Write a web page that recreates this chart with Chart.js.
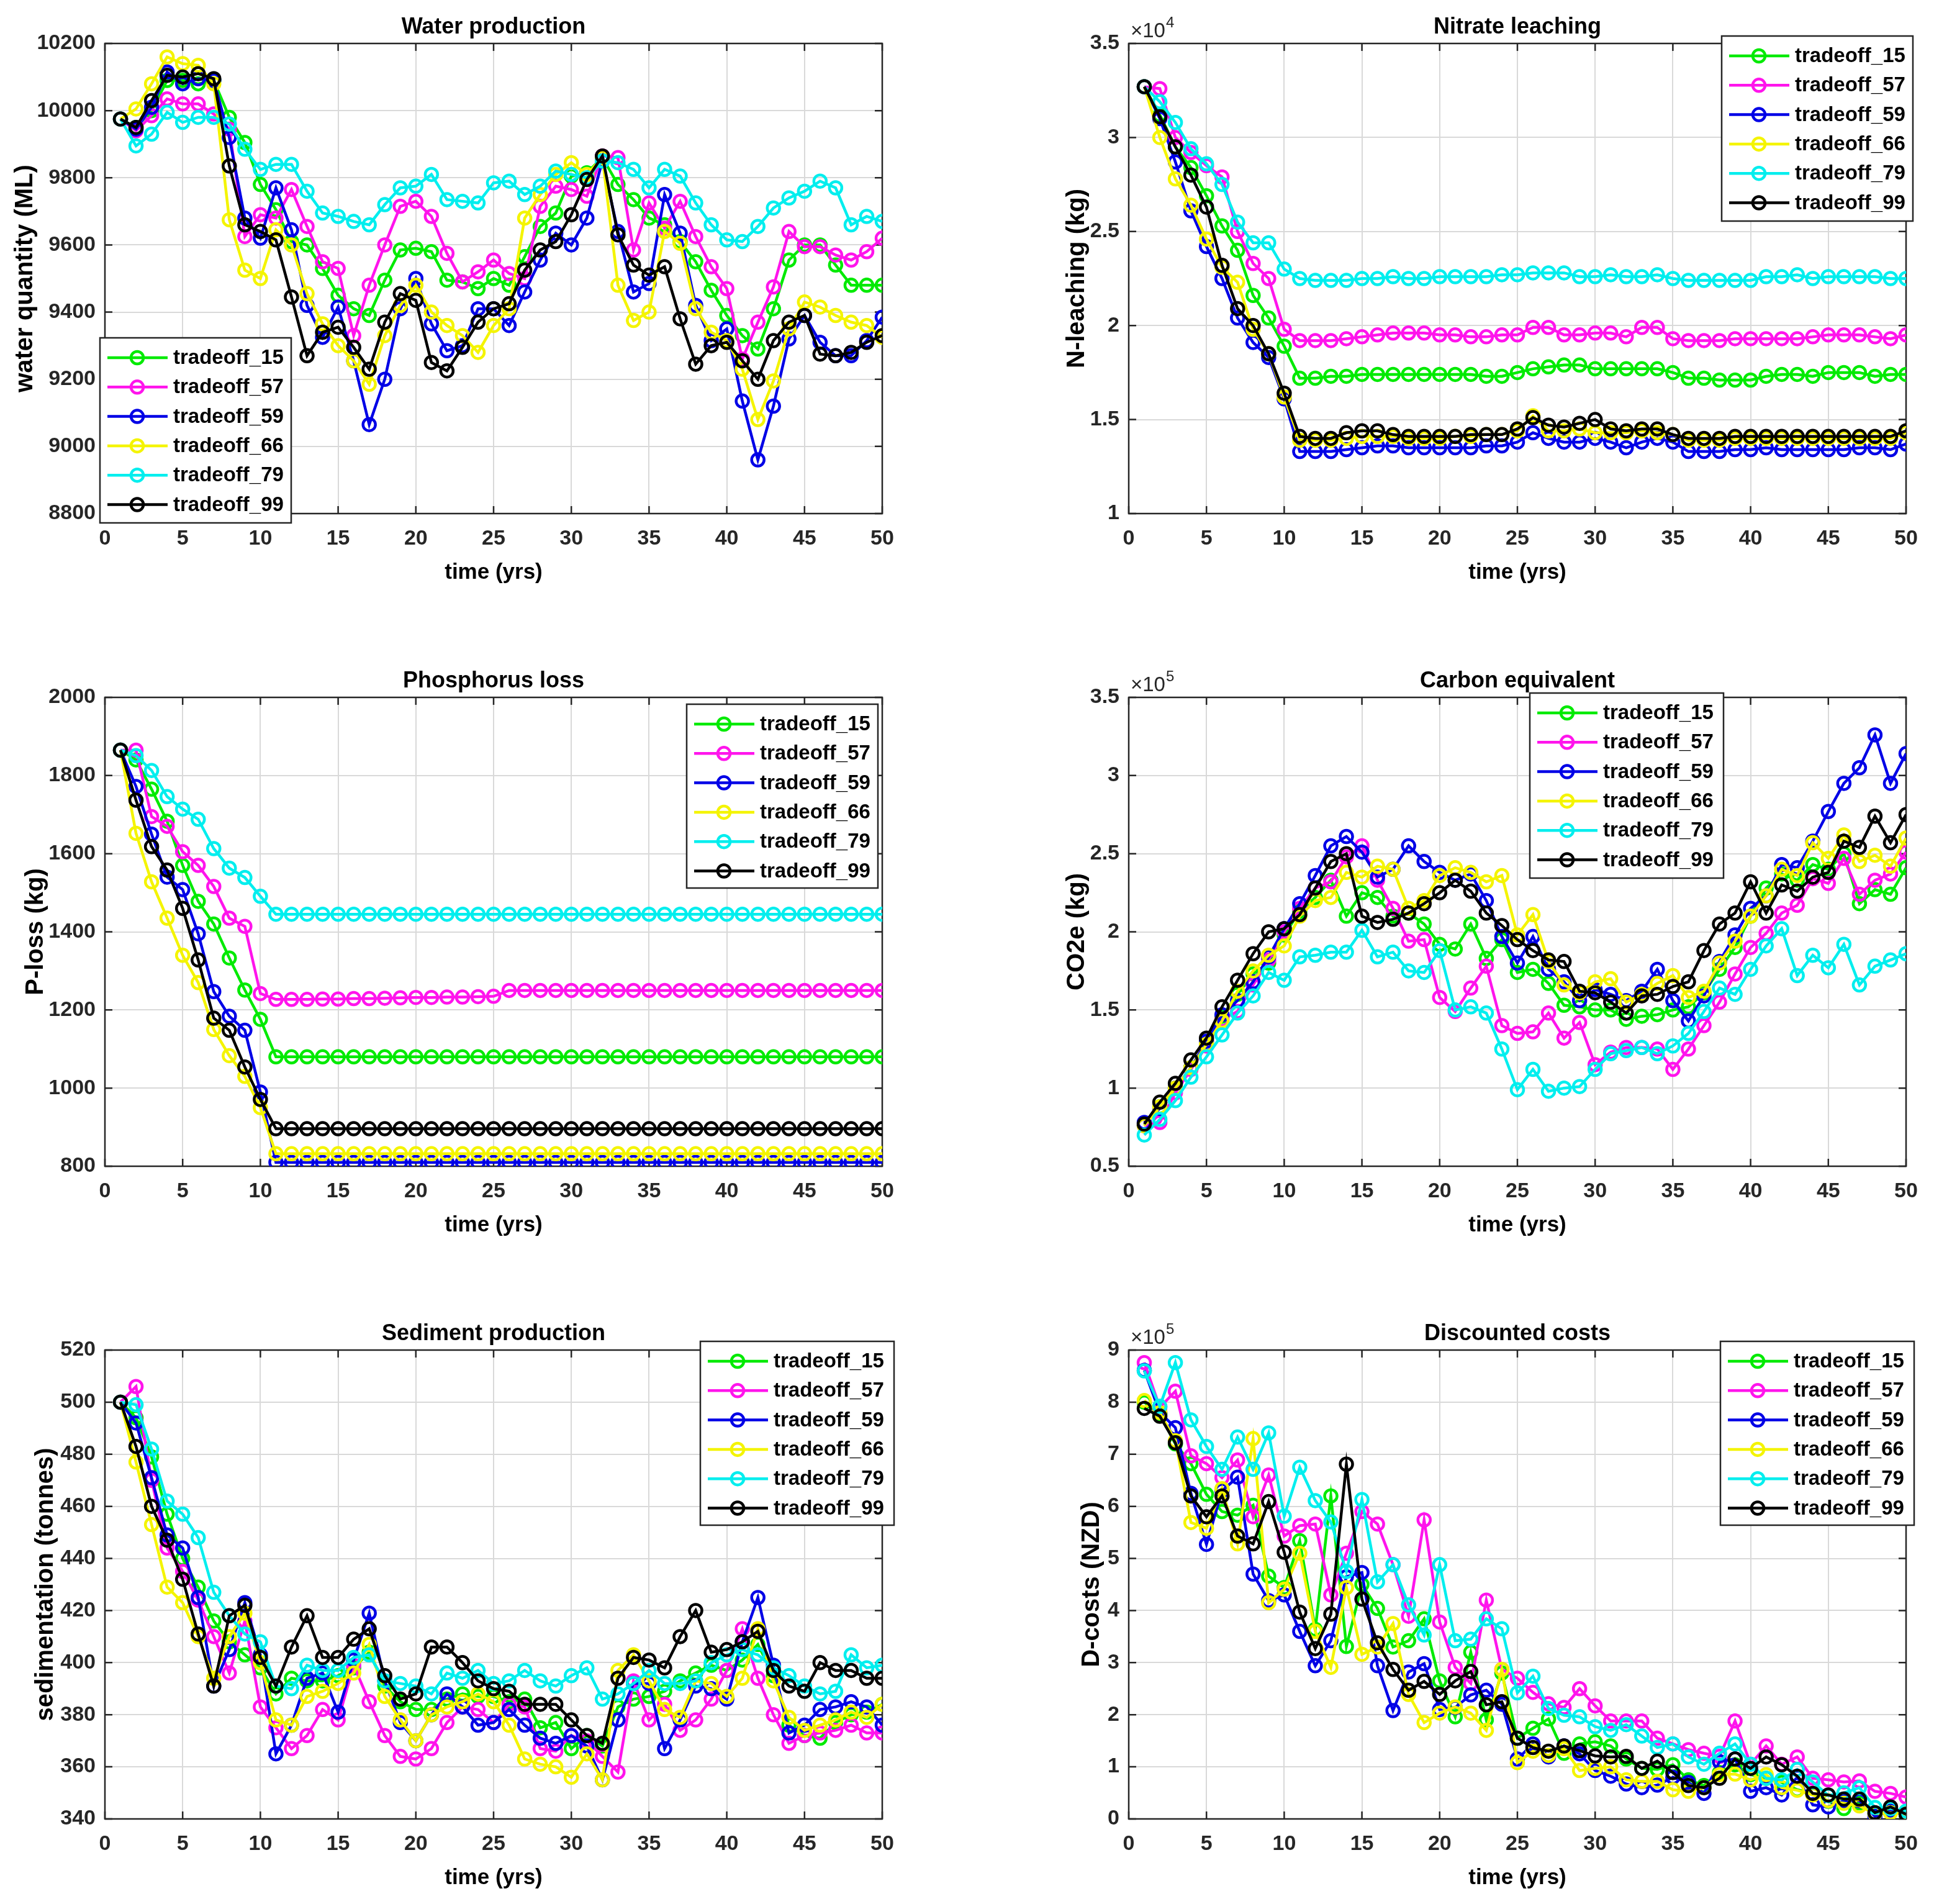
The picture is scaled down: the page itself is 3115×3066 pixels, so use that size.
<!DOCTYPE html>
<html>
<head>
<meta charset="utf-8">
<script src="https://cdn.jsdelivr.net/npm/chart.js@4.4.1/dist/chart.umd.min.js"></script>
<style>
  html, body { margin: 0; padding: 0; background: #fff; }
  #fig { position: relative; width: 3115px; height: 3066px; background: #fff; overflow: hidden; }
  .panel { position: absolute; }
</style>
</head>
<body>
<div id="fig"></div>
<script>
// time axis and series labels
const years = [1, 2, 3, 4, 5, 6, 7, 8, 9, 10, 11, 12, 13, 14, 15, 16, 17, 18, 19, 20,
  21, 22, 23, 24, 25, 26, 27, 28, 29, 30, 31, 32, 33, 34, 35, 36, 37, 38, 39, 40,
  41, 42, 43, 44, 45, 46, 47, 48, 49, 50];
const seriesNames = ["tradeoff_15", "tradeoff_57", "tradeoff_59", "tradeoff_66", "tradeoff_79", "tradeoff_99"];
const seriesColors = ["#00ea00", "#ff14ec", "#0000e6", "#f4f400", "#00eeee", "#000000"];

// Water production (ML)
const water15 = [9975, 9950, 10000, 10090, 10090, 10080, 10090, 9980, 9905, 9780,
  9705, 9610, 9600, 9530, 9450, 9410, 9390, 9495, 9585, 9590,
  9580, 9495, 9490, 9470, 9500, 9480, 9565, 9655, 9695, 9805,
  9815, 9860, 9780, 9735, 9680, 9660, 9610, 9550, 9465, 9390,
  9330, 9290, 9410, 9555, 9600, 9600, 9540, 9480, 9480, 9480];
const water57 = [9975, 9940, 9985, 10035, 10020, 10020, 9990, 9945, 9625, 9690,
  9680, 9765, 9655, 9550, 9530, 9330, 9480, 9600, 9715, 9730,
  9685, 9575, 9490, 9520, 9555, 9515, 9500, 9715, 9775, 9765,
  9745, 9865, 9860, 9585, 9725, 9650, 9730, 9625, 9535, 9470,
  9260, 9370, 9475, 9640, 9595, 9595, 9570, 9555, 9580, 9620];
const water59 = [9975, 9945, 10010, 10115, 10080, 10095, 10090, 9920, 9680, 9620,
  9770, 9645, 9420, 9325, 9415, 9255, 9065, 9200, 9410, 9500,
  9365, 9285, 9300, 9410, 9410, 9360, 9460, 9555, 9635, 9600,
  9680, 9850, 9640, 9460, 9485, 9750, 9635, 9420, 9315, 9350,
  9135, 8960, 9120, 9320, 9390, 9310, 9270, 9270, 9315, 9385];
const water66 = [9975, 10005, 10080, 10160, 10140, 10135, 10080, 9675, 9525, 9500,
  9645, 9600, 9455, 9365, 9300, 9255, 9185, 9330, 9420, 9480,
  9400, 9360, 9330, 9280, 9360, 9410, 9680, 9750, 9810, 9845,
  9810, 9860, 9480, 9375, 9400, 9640, 9605, 9410, 9340, 9315,
  9230, 9080, 9195, 9350, 9430, 9415, 9390, 9370, 9360, 9325];
const water79 = [9975, 9895, 9930, 9995, 9965, 9980, 9980, 9960, 9885, 9825,
  9840, 9840, 9760, 9695, 9685, 9670, 9660, 9720, 9770, 9775,
  9810, 9735, 9730, 9725, 9785, 9790, 9750, 9775, 9820, 9810,
  9800, 9850, 9845, 9825, 9770, 9825, 9805, 9725, 9660, 9615,
  9610, 9655, 9710, 9740, 9760, 9790, 9770, 9660, 9685, 9670];
const water99 = [9975, 9950, 10030, 10105, 10100, 10110, 10095, 9835, 9660, 9640,
  9615, 9445, 9270, 9340, 9355, 9295, 9230, 9370, 9455, 9435,
  9250, 9225, 9295, 9370, 9410, 9425, 9525, 9585, 9610, 9690,
  9795, 9865, 9630, 9540, 9510, 9535, 9380, 9245, 9300, 9310,
  9255, 9200, 9315, 9370, 9390, 9275, 9270, 9280, 9310, 9330];

// Nitrate leaching (x10^4 kg)
const nitrate15 = [3.27, 3.12, 2.95, 2.84, 2.69, 2.53, 2.40, 2.16, 2.04, 1.89,
  1.72, 1.72, 1.73, 1.73, 1.74, 1.74, 1.74, 1.74, 1.74, 1.74,
  1.74, 1.74, 1.73, 1.73, 1.75, 1.77, 1.78, 1.79, 1.79, 1.77,
  1.77, 1.77, 1.77, 1.77, 1.75, 1.72, 1.72, 1.71, 1.71, 1.71,
  1.73, 1.74, 1.74, 1.73, 1.75, 1.75, 1.75, 1.73, 1.74, 1.74];
const nitrate57 = [3.27, 3.26, 3.00, 2.92, 2.85, 2.79, 2.50, 2.33, 2.25, 1.98,
  1.92, 1.92, 1.92, 1.93, 1.94, 1.95, 1.96, 1.96, 1.96, 1.95,
  1.95, 1.94, 1.94, 1.95, 1.95, 1.99, 1.99, 1.95, 1.95, 1.96,
  1.96, 1.94, 1.99, 1.99, 1.93, 1.92, 1.92, 1.92, 1.93, 1.93,
  1.93, 1.93, 1.93, 1.94, 1.95, 1.95, 1.95, 1.94, 1.93, 1.95];
const nitrate59 = [3.27, 3.10, 2.87, 2.61, 2.42, 2.25, 2.04, 1.91, 1.83, 1.61,
  1.33, 1.33, 1.33, 1.34, 1.35, 1.36, 1.36, 1.35, 1.35, 1.35,
  1.35, 1.35, 1.36, 1.36, 1.38, 1.43, 1.40, 1.38, 1.38, 1.40,
  1.38, 1.35, 1.38, 1.40, 1.38, 1.33, 1.33, 1.33, 1.34, 1.34,
  1.35, 1.34, 1.34, 1.34, 1.34, 1.34, 1.35, 1.35, 1.34, 1.37];
const nitrate66 = [3.27, 3.00, 2.78, 2.64, 2.46, 2.31, 2.23, 1.98, 1.85, 1.62,
  1.39, 1.39, 1.39, 1.40, 1.41, 1.41, 1.41, 1.40, 1.40, 1.40,
  1.41, 1.41, 1.42, 1.42, 1.44, 1.52, 1.44, 1.44, 1.45, 1.43,
  1.43, 1.43, 1.44, 1.43, 1.42, 1.39, 1.39, 1.39, 1.40, 1.40,
  1.40, 1.40, 1.40, 1.40, 1.40, 1.40, 1.40, 1.40, 1.40, 1.43];
const nitrate79 = [3.27, 3.19, 3.08, 2.94, 2.86, 2.75, 2.55, 2.44, 2.44, 2.30,
  2.25, 2.24, 2.24, 2.24, 2.25, 2.25, 2.26, 2.25, 2.25, 2.26,
  2.26, 2.26, 2.26, 2.27, 2.27, 2.28, 2.28, 2.28, 2.26, 2.26,
  2.27, 2.26, 2.26, 2.27, 2.25, 2.24, 2.24, 2.24, 2.24, 2.24,
  2.26, 2.26, 2.27, 2.25, 2.26, 2.26, 2.26, 2.26, 2.25, 2.25];
const nitrate99 = [3.27, 3.11, 2.95, 2.80, 2.63, 2.32, 2.09, 2.00, 1.85, 1.64,
  1.41, 1.40, 1.40, 1.43, 1.44, 1.44, 1.42, 1.41, 1.41, 1.41,
  1.41, 1.42, 1.42, 1.42, 1.45, 1.51, 1.47, 1.46, 1.48, 1.50,
  1.45, 1.44, 1.45, 1.45, 1.42, 1.40, 1.40, 1.40, 1.41, 1.41,
  1.41, 1.41, 1.41, 1.41, 1.41, 1.41, 1.41, 1.41, 1.41, 1.44];

// Phosphorus loss (kg)
const phos15 = [1865, 1840, 1765, 1683, 1570, 1478, 1420, 1333, 1251, 1176,
  1080, 1080, 1080, 1080, 1080, 1080, 1080, 1080, 1080, 1080,
  1080, 1080, 1080, 1080, 1080, 1080, 1080, 1080, 1080, 1080,
  1080, 1080, 1080, 1080, 1080, 1080, 1080, 1080, 1080, 1080,
  1080, 1080, 1080, 1080, 1080, 1080, 1080, 1080, 1080, 1080];
const phos57 = [1865, 1865, 1695, 1670, 1605, 1570, 1516, 1435, 1414, 1242,
  1227, 1227, 1227, 1228, 1228, 1229, 1229, 1230, 1231, 1232,
  1232, 1233, 1233, 1234, 1235, 1250, 1250, 1250, 1250, 1250,
  1250, 1250, 1250, 1250, 1250, 1250, 1250, 1250, 1250, 1250,
  1250, 1250, 1250, 1250, 1250, 1250, 1250, 1250, 1250, 1250];
const phos59 = [1865, 1772, 1650, 1540, 1508, 1395, 1247, 1184, 1148, 990,
  810, 810, 810, 810, 810, 810, 810, 810, 810, 810,
  810, 810, 810, 810, 810, 810, 810, 810, 810, 810,
  810, 810, 810, 810, 810, 810, 810, 810, 810, 810,
  810, 810, 810, 810, 810, 810, 810, 810, 810, 810];
const phos66 = [1865, 1652, 1528, 1435, 1340, 1270, 1150, 1083, 1030, 950,
  832, 832, 832, 832, 832, 832, 832, 832, 832, 832,
  832, 832, 832, 832, 832, 832, 832, 832, 832, 832,
  832, 832, 832, 832, 832, 832, 832, 832, 832, 832,
  832, 832, 832, 832, 832, 832, 832, 832, 832, 832];
const phos79 = [1865, 1851, 1813, 1746, 1714, 1688, 1613, 1563, 1539, 1491,
  1445, 1445, 1445, 1445, 1445, 1445, 1445, 1445, 1445, 1445,
  1445, 1445, 1445, 1445, 1445, 1445, 1445, 1445, 1445, 1445,
  1445, 1445, 1445, 1445, 1445, 1445, 1445, 1445, 1445, 1445,
  1445, 1445, 1445, 1445, 1445, 1445, 1445, 1445, 1445, 1445];
const phos99 = [1865, 1737, 1618, 1558, 1460, 1328, 1179, 1148, 1054, 971,
  896, 896, 896, 896, 896, 896, 896, 896, 896, 896,
  896, 896, 896, 896, 896, 896, 896, 896, 896, 896,
  896, 896, 896, 896, 896, 896, 896, 896, 896, 896,
  896, 896, 896, 896, 896, 896, 896, 896, 896, 896];

// Carbon equivalent (x10^5 kg CO2e)
const carbon15 = [0.76, 0.88, 1.00, 1.13, 1.28, 1.46, 1.60, 1.73, 1.80, 1.98,
  2.13, 2.22, 2.33, 2.10, 2.25, 2.22, 2.10, 2.12, 2.05, 1.92,
  1.89, 2.05, 1.83, 1.95, 1.74, 1.76, 1.67, 1.53, 1.52, 1.50,
  1.50, 1.44, 1.46, 1.47, 1.50, 1.52, 1.61, 1.76, 1.90, 2.10,
  2.28, 2.37, 2.33, 2.43, 2.40, 2.50, 2.18, 2.27, 2.24, 2.41];
const carbon57 = [0.76, 0.78, 0.97, 1.12, 1.27, 1.44, 1.49, 1.66, 1.82, 2.00,
  2.15, 2.28, 2.32, 2.48, 2.55, 2.33, 2.15, 1.94, 1.95, 1.58,
  1.49, 1.64, 1.78, 1.40, 1.35, 1.36, 1.48, 1.32, 1.42, 1.15,
  1.23, 1.26, 1.26, 1.25, 1.12, 1.25, 1.40, 1.55, 1.73, 1.90,
  1.99, 2.12, 2.17, 2.34, 2.31, 2.47, 2.24, 2.33, 2.37, 2.51];
const carbon59 = [0.78, 0.87, 1.00, 1.13, 1.30, 1.47, 1.56, 1.68, 1.84, 2.02,
  2.18, 2.36, 2.55, 2.61, 2.51, 2.35, 2.40, 2.55, 2.45, 2.38,
  2.33, 2.37, 2.20, 1.97, 1.80, 1.97, 1.76, 1.68, 1.56, 1.63,
  1.60, 1.56, 1.62, 1.76, 1.56, 1.43, 1.59, 1.81, 1.98, 2.15,
  2.23, 2.43, 2.41, 2.58, 2.77, 2.95, 3.05, 3.26, 2.95, 3.14];
const carbon66 = [0.76, 0.88, 1.00, 1.13, 1.28, 1.43, 1.62, 1.75, 1.85, 1.91,
  2.10, 2.20, 2.22, 2.38, 2.35, 2.42, 2.40, 2.15, 2.20, 2.36,
  2.41, 2.38, 2.32, 2.36, 1.98, 2.11, 1.81, 1.66, 1.61, 1.68,
  1.70, 1.55, 1.60, 1.67, 1.72, 1.58, 1.62, 1.80, 1.94, 2.10,
  2.23, 2.40, 2.36, 2.57, 2.47, 2.62, 2.45, 2.49, 2.42, 2.60];
const carbon79 = [0.70, 0.80, 0.92, 1.07, 1.20, 1.34, 1.48, 1.59, 1.74, 1.69,
  1.84, 1.85, 1.87, 1.87, 2.01, 1.84, 1.87, 1.75, 1.74, 1.88,
  1.50, 1.52, 1.48, 1.25, 0.99, 1.12, 0.98, 1.00, 1.01, 1.12,
  1.22, 1.24, 1.26, 1.22, 1.27, 1.35, 1.49, 1.64, 1.60, 1.76,
  1.91, 2.02, 1.72, 1.85, 1.77, 1.92, 1.66, 1.78, 1.82, 1.86];
const carbon99 = [0.77, 0.91, 1.03, 1.18, 1.32, 1.52, 1.69, 1.86, 2.00, 2.02,
  2.11, 2.28, 2.45, 2.50, 2.10, 2.06, 2.08, 2.12, 2.18, 2.25,
  2.33, 2.26, 2.12, 2.04, 1.95, 1.88, 1.82, 1.81, 1.62, 1.61,
  1.55, 1.48, 1.59, 1.60, 1.65, 1.68, 1.88, 2.05, 2.12, 2.32,
  2.12, 2.30, 2.26, 2.35, 2.38, 2.58, 2.54, 2.74, 2.57, 2.75];

// Sediment production (tonnes)
const sed15 = [500, 494, 479, 457, 440, 429, 416, 408, 403, 398,
  388, 394, 393, 393, 395, 398, 404, 391, 385, 382,
  382, 386, 388, 387, 387, 385, 386, 375, 377, 367,
  372, 368, 383, 386, 387, 389, 393, 396, 399, 397,
  401, 407, 395, 376, 372, 371, 377, 380, 381, 384];
const sed57 = [500, 506, 470, 444, 435, 424, 410, 396, 416, 383,
  375, 367, 372, 382, 378, 399, 385, 372, 364, 363,
  367, 377, 383, 382, 377, 384, 383, 367, 366, 372,
  370, 364, 358, 393, 378, 384, 374, 378, 386, 397,
  413, 394, 380, 369, 372, 373, 374, 376, 373, 373];
const sed59 = [500, 492, 471, 449, 444, 425, 391, 405, 423, 403,
  365, 376, 394, 396, 381, 401, 419, 393, 377, 370,
  380, 388, 383, 376, 377, 382, 376, 371, 369, 372,
  368, 355, 378, 392, 392, 367, 378, 391, 390, 386,
  408, 425, 399, 373, 376, 382, 383, 385, 383, 376];
const sed66 = [500, 477, 453, 429, 423, 410, 394, 410, 419, 400,
  378, 376, 387, 389, 392, 396, 407, 387, 378, 370,
  380, 383, 385, 388, 385, 376, 363, 361, 360, 356,
  365, 355, 397, 403, 393, 382, 379, 393, 392, 387,
  394, 413, 393, 379, 374, 376, 378, 381, 379, 384];
const sed79 = [500, 499, 482, 462, 457, 448, 427, 418, 411, 408,
  391, 390, 399, 397, 397, 402, 403, 393, 392, 391,
  388, 396, 394, 397, 392, 393, 397, 393, 391, 395,
  398, 386, 388, 392, 397, 392, 392, 393, 400, 403,
  405, 403, 398, 395, 391, 388, 389, 403, 398, 399];
const sed99 = [500, 483, 460, 447, 432, 411, 391, 418, 422, 402,
  391, 406, 418, 402, 402, 409, 413, 395, 386, 388,
  406, 406, 400, 393, 390, 389, 384, 384, 384, 378,
  372, 369, 394, 402, 401, 398, 410, 420, 404, 405,
  408, 412, 397, 391, 389, 400, 397, 397, 394, 394];

// Discounted costs (x10^5 NZD)
const cost15 = [8.00, 7.77, 7.20, 6.82, 6.23, 5.90, 5.83, 6.02, 4.66, 4.44,
  5.34, 3.64, 6.20, 3.31, 4.50, 4.04, 3.30, 3.42, 3.84, 2.65,
  1.96, 3.20, 1.90, 2.80, 1.55, 1.74, 1.92, 1.26, 1.44, 1.48,
  1.40, 1.15, 0.97, 0.95, 1.04, 0.75, 0.64, 0.89, 1.04, 0.85,
  0.78, 0.70, 0.56, 0.49, 0.34, 0.20, 0.31, 0.09, 0.16, 0.09];
const cost57 = [8.76, 7.90, 8.21, 6.97, 6.82, 6.55, 6.89, 5.80, 6.60, 5.43,
  5.63, 5.66, 4.30, 5.10, 5.90, 5.66, 4.88, 3.89, 5.74, 3.78,
  2.91, 2.60, 4.20, 2.87, 2.70, 2.43, 2.21, 2.14, 2.50, 2.17,
  1.88, 1.88, 1.88, 1.55, 1.44, 1.33, 1.26, 1.20, 1.88, 1.05,
  1.40, 1.05, 1.19, 0.78, 0.75, 0.71, 0.73, 0.53, 0.49, 0.42];
const cost59 = [8.61, 7.80, 7.51, 6.25, 5.27, 6.30, 6.56, 4.70, 4.19, 4.30,
  3.60, 2.94, 3.42, 4.65, 4.73, 2.94, 2.08, 2.82, 2.98, 2.10,
  2.14, 2.38, 2.47, 2.20, 1.15, 1.44, 1.19, 1.40, 1.25, 0.93,
  0.82, 0.67, 0.60, 0.65, 0.80, 0.70, 0.49, 1.10, 1.15, 0.53,
  0.60, 0.46, 0.80, 0.27, 0.23, 0.35, 0.35, 0.05, 0.15, 0.10];
const cost66 = [8.03, 7.80, 7.26, 5.69, 5.58, 6.34, 5.28, 7.30, 4.15, 4.41,
  5.10, 3.60, 2.91, 4.44, 3.16, 3.30, 3.75, 2.39, 1.85, 2.03,
  2.15, 2.03, 1.70, 2.87, 1.08, 1.30, 1.22, 1.35, 0.93, 0.97,
  1.00, 0.75, 0.72, 0.72, 0.56, 0.53, 0.60, 0.85, 0.86, 0.75,
  0.85, 0.60, 0.55, 0.46, 0.35, 0.30, 0.25, 0.10, 0.12, 0.10];
const cost79 = [8.60, 7.92, 8.76, 7.66, 7.15, 6.71, 7.33, 6.71, 7.41, 5.81,
  6.75, 6.11, 5.70, 4.75, 6.13, 4.55, 4.88, 4.11, 3.53, 4.88,
  3.42, 3.45, 3.84, 3.65, 2.42, 2.74, 2.12, 1.99, 1.96, 1.77,
  1.70, 1.81, 1.59, 1.37, 1.44, 1.19, 1.05, 1.26, 1.44, 1.05,
  0.78, 0.75, 0.95, 0.71, 0.45, 0.50, 0.60, 0.22, 0.20, 0.15];
const cost99 = [7.88, 7.73, 7.22, 6.20, 5.80, 6.20, 5.43, 5.28, 6.09, 5.12,
  3.97, 3.27, 3.93, 6.81, 4.22, 3.38, 2.87, 2.47, 2.64, 2.39,
  2.65, 2.83, 2.19, 2.25, 1.55, 1.37, 1.30, 1.40, 1.31, 1.21,
  1.19, 1.20, 0.97, 1.11, 0.89, 0.64, 0.60, 0.78, 1.15, 0.97,
  1.19, 1.04, 0.82, 0.49, 0.46, 0.38, 0.38, 0.12, 0.23, 0.09];

const FONT = '"Liberation Sans", Arial, Helvetica, sans-serif';
Chart.defaults.font.family = FONT;
Chart.defaults.color = "#262626";

// draws the MATLAB style box with inner ticks, the power-of-ten label and the boxed legend
const matlabAxes = {
  id: "matlabAxes",
  beforeDatasetsDraw(chart) {
    const { ctx, chartArea: a, scales } = chart;
    const tl = 12;
    ctx.save();
    ctx.strokeStyle = "#262626";
    ctx.lineWidth = 2.5;
    ctx.strokeRect(a.left, a.top, a.right - a.left, a.bottom - a.top);
    ctx.beginPath();
    scales.x.ticks.forEach((t) => {
      const px = scales.x.getPixelForValue(t.value);
      ctx.moveTo(px, a.bottom); ctx.lineTo(px, a.bottom - tl);
      ctx.moveTo(px, a.top); ctx.lineTo(px, a.top + tl);
    });
    scales.y.ticks.forEach((t) => {
      const py = scales.y.getPixelForValue(t.value);
      ctx.moveTo(a.left, py); ctx.lineTo(a.left + tl, py);
      ctx.moveTo(a.right, py); ctx.lineTo(a.right - tl, py);
    });
    ctx.stroke();
    ctx.restore();
  },
  afterDraw(chart, args, opts) {
    const { ctx, chartArea: a } = chart;
    ctx.save();
    if (opts.exponent) {
      ctx.fillStyle = "#262626";
      ctx.textBaseline = "alphabetic";
      ctx.textAlign = "left";
      ctx.font = "33px " + FONT;
      ctx.fillText("\u00d710", a.left + 3, a.top - 10);
      const w = ctx.measureText("\u00d710").width;
      ctx.font = "24px " + FONT;
      ctx.fillText(opts.exponent, a.left + 3 + w + 1, a.top - 26);
    }
    const lg = opts.legend;
    if (lg) {
      ctx.fillStyle = "#ffffff";
      ctx.fillRect(lg.x, lg.y, lg.w, lg.h);
      ctx.strokeStyle = "#262626";
      ctx.lineWidth = 2.5;
      ctx.strokeRect(lg.x, lg.y, lg.w, lg.h);
      ctx.font = "bold 33px " + FONT;
      ctx.textBaseline = "middle";
      ctx.textAlign = "left";
      chart.data.datasets.forEach((ds, i) => {
        const y = lg.y + 32 + i * 47.3;
        ctx.strokeStyle = ds.borderColor;
        ctx.lineWidth = ds.borderWidth;
        ctx.beginPath();
        ctx.moveTo(lg.x + 12, y);
        ctx.lineTo(lg.x + 109, y);
        ctx.stroke();
        ctx.lineWidth = ds.pointBorderWidth;
        ctx.beginPath();
        ctx.arc(lg.x + 60, y, ds.pointRadius, 0, Math.PI * 2);
        ctx.stroke();
        ctx.fillStyle = "#000000";
        ctx.fillText(ds.label, lg.x + 118, y + 1);
      });
    }
    ctx.restore();
  }
};

const plotH = { top: [70, 827], mid: [1123, 1878], bot: [2174, 2929] };
const colL = { left: 0, width: 1460, plotLeft: 169, plotRight: 1421 };
const colR = { left: 1690, width: 1420, plotLeft: 1818, plotRight: 3070 };
const TITLE_BOX = 70;
const XAXIS_BOX = 133;

const panels = [
  { col: colL, row: plotH.top, title: "Water production", ylabel: "water quantity (ML)", ylabelX: 41,
    min: 8800, max: 10200, step: 200, exponent: null,
    series: [water15, water57, water59, water66, water79, water99],
    legend: { x: 161, y: 544, w: 308, h: 298 } },
  { col: colR, row: plotH.top, title: "Nitrate leaching", ylabel: "N-leaching (kg)", ylabelX: 1735,
    min: 1, max: 3.5, step: 0.5, exponent: "4",
    series: [nitrate15, nitrate57, nitrate59, nitrate66, nitrate79, nitrate99],
    legend: { x: 2773, y: 58, w: 308, h: 298 } },
  { col: colL, row: plotH.mid, title: "Phosphorus loss", ylabel: "P-loss (kg)", ylabelX: 58,
    min: 800, max: 2000, step: 200, exponent: null,
    series: [phos15, phos57, phos59, phos66, phos79, phos99],
    legend: { x: 1106, y: 1134, w: 308, h: 296 } },
  { col: colR, row: plotH.mid, title: "Carbon equivalent", ylabel: "CO2e (kg)", ylabelX: 1735,
    min: 0.5, max: 3.5, step: 0.5, exponent: "5",
    series: [carbon15, carbon57, carbon59, carbon66, carbon79, carbon99],
    legend: { x: 2464, y: 1116, w: 312, h: 298 } },
  { col: colL, row: plotH.bot, title: "Sediment production", ylabel: "sedimentation (tonnes)", ylabelX: 74,
    min: 340, max: 520, step: 20, exponent: null,
    series: [sed15, sed57, sed59, sed66, sed79, sed99],
    legend: { x: 1128, y: 2160, w: 312, h: 296 } },
  { col: colR, row: plotH.bot, title: "Discounted costs", ylabel: "D-costs (NZD)", ylabelX: 1759,
    min: 0, max: 9, step: 1, exponent: "5",
    series: [cost15, cost57, cost59, cost66, cost79, cost99],
    legend: { x: 2771, y: 2160, w: 312, h: 296 } }
];

const fig = document.getElementById("fig");

panels.forEach((p) => {
  const top = p.row[0] - TITLE_BOX;
  const height = p.row[1] - p.row[0] + TITLE_BOX + XAXIS_BOX;
  const div = document.createElement("div");
  div.className = "panel";
  div.style.left = p.col.left + "px";
  div.style.top = top + "px";
  div.style.width = p.col.width + "px";
  div.style.height = height + "px";
  const canvas = document.createElement("canvas");
  div.appendChild(canvas);
  fig.appendChild(div);

  const yAxisWidth = p.col.plotLeft - p.col.left;
  const yTitlePad = p.ylabelX - p.col.left - 24;

  const datasets = p.series.map((vals, i) => ({
    label: seriesNames[i],
    data: years.map((yr, k) => ({ x: yr, y: vals[k] })),
    borderColor: seriesColors[i],
    backgroundColor: "rgba(0,0,0,0)",
    borderWidth: 4.5,
    pointRadius: 10,
    pointBorderWidth: 4.5,
    pointBackgroundColor: "rgba(0,0,0,0)",
    pointBorderColor: seriesColors[i],
    tension: 0,
    order: seriesNames.length - i
  }));

  new Chart(canvas, {
    type: "line",
    data: { datasets },
    plugins: [matlabAxes],
    options: {
      responsive: true,
      maintainAspectRatio: false,
      animation: false,
      layout: { padding: { top: 0, right: p.col.left + p.col.width - p.col.plotRight, bottom: 0, left: 0 } },
      plugins: {
        legend: { display: false },
        tooltip: { enabled: false },
        title: {
          display: true,
          text: p.title,
          fullSize: false,
          color: "#000000",
          font: { size: 36, weight: "bold" },
          padding: { top: 22, bottom: 4.8 }
        },
        matlabAxes: {
          exponent: p.exponent,
          legend: { x: p.legend.x - p.col.left, y: p.legend.y - top, w: p.legend.w, h: p.legend.h }
        }
      },
      scales: {
        x: {
          type: "linear",
          min: 0,
          max: 50,
          ticks: { stepSize: 5, padding: 20, font: { size: 34, weight: "bold" }, maxRotation: 0 },
          grid: { color: "#d9d9d9", lineWidth: 2, drawTicks: false },
          border: { display: false },
          title: { display: true, text: "time (yrs)", color: "#000000",
            font: { size: 35, weight: "bold" }, padding: { top: 0, bottom: 17 } },
          afterFit: (scale) => { scale.height = XAXIS_BOX; }
        },
        y: {
          type: "linear",
          min: p.min,
          max: p.max,
          ticks: { stepSize: p.step, padding: 15, font: { size: 34, weight: "bold" },
            callback: (v) => String(Math.round(v * 100) / 100) },
          grid: { color: "#d9d9d9", lineWidth: 2, drawTicks: false },
          border: { display: false },
          title: { display: true, text: p.ylabel, color: "#000000",
            font: { size: 40, weight: "bold" }, padding: { top: yTitlePad, bottom: 0 } },
          afterFit: (scale) => { scale.width = yAxisWidth; }
        }
      }
    }
  });
});
</script>
</body>
</html>
